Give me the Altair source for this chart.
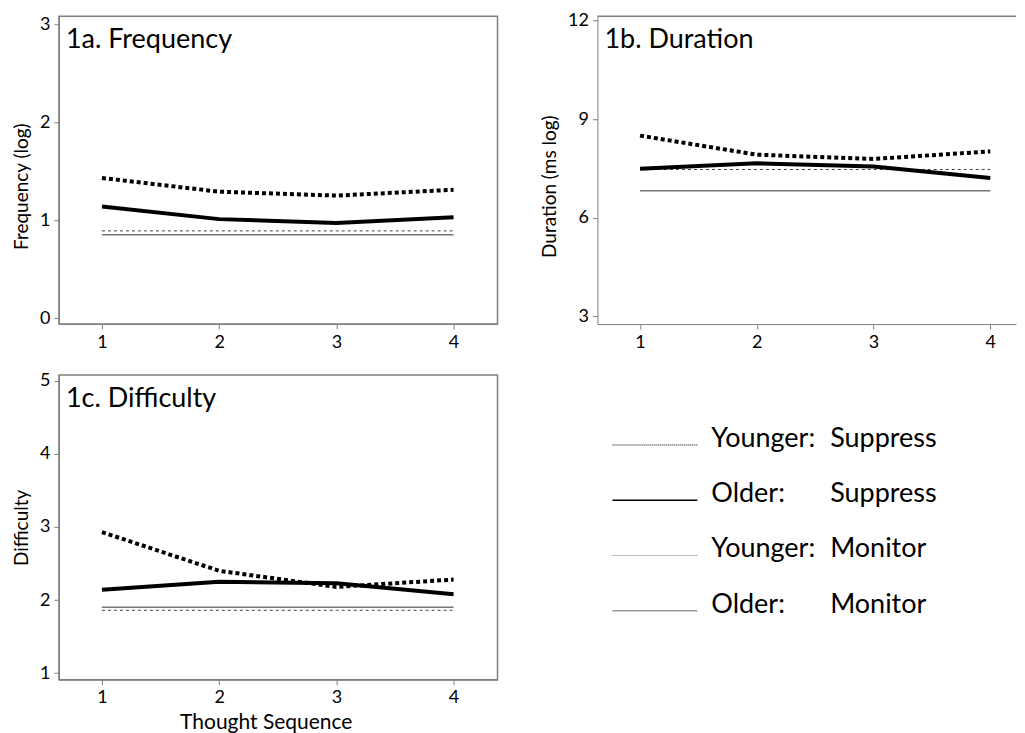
import altair as alt
import pandas as pd

FONT = "Lato"

seq = [1, 2, 3, 4]
series = ["Younger: Suppress", "Older: Suppress", "Younger: Monitor", "Older: Monitor"]
groups = ["Younger:", "Older:", "Younger:", "Older:"]
conditions = ["Suppress", "Suppress", "Monitor", "Monitor"]

# 1a. Frequency (log)
freq_young_suppress = [1.43, 1.29, 1.25, 1.31]
freq_old_suppress = [1.14, 1.01, 0.97, 1.03]
freq_young_monitor = [0.89, 0.89, 0.89, 0.89]
freq_old_monitor = [0.85, 0.85, 0.85, 0.85]

# 1b. Duration (ms log)
dur_young_suppress = [8.50, 7.92, 7.79, 8.02]
dur_old_suppress = [7.49, 7.66, 7.56, 7.21]
dur_young_monitor = [7.47, 7.47, 7.47, 7.47]
dur_old_monitor = [6.82, 6.82, 6.82, 6.82]

# 1c. Difficulty
diff_young_suppress = [2.93, 2.40, 2.18, 2.28]
diff_old_suppress = [2.14, 2.25, 2.23, 2.08]
diff_young_monitor = [1.86, 1.86, 1.86, 1.86]
diff_old_monitor = [1.90, 1.90, 1.90, 1.90]

freq_ticks = [0, 1, 2, 3]
dur_ticks = [3, 6, 9, 12]
diff_ticks = [1, 2, 3, 4, 5]

styles = {
    "Younger: Suppress": dict(color="black", strokeWidth=4, strokeDash=[4, 3], strokeCap="butt"),
    "Older: Suppress": dict(color="black", strokeWidth=4),
    "Younger: Monitor": dict(color="#444444", strokeWidth=1, strokeDash=[3, 3]),
    "Older: Monitor": dict(color="#777777", strokeWidth=1.5),
}
legend_styles = {
    "Younger: Suppress": dict(color="#555555", strokeWidth=1.5, strokeDash=[1, 1]),
    "Older: Suppress": dict(color="black", strokeWidth=1.5),
    "Younger: Monitor": dict(color="#777777", strokeWidth=1, strokeDash=[1, 1]),
    "Older: Monitor": dict(color="#999999", strokeWidth=1.5),
}


def make_df(ys, os_, ym, om):
    rows = []
    for name, vals in zip(series, [ys, os_, ym, om]):
        for s, v in zip(seq, vals):
            rows.append({"series": name, "seq": s, "value": v})
    return pd.DataFrame(rows)


def panel(df, label, ytitle, ydomain, yticks, xdomain, width, height,
          xtitle=None, title_y=None, frame=True):
    yaxis = dict(values=yticks, title=ytitle, titleFontSize=19, titleFont=FONT,
                 titleFontWeight="normal", titleColor="black", titlePadding=8)
    if title_y is not None:
        yaxis["titleY"] = title_y
    xaxis = dict(values=seq, title=xtitle, titleFontSize=21, titleFont=FONT,
                 titleFontWeight="normal", titleColor="black", titlePadding=5)
    if xtitle is not None:
        xaxis["titleX"] = 207
    base = alt.Chart(df).encode(
        x=alt.X("seq:Q", scale=alt.Scale(domain=xdomain, nice=False, zero=False),
                axis=alt.Axis(**xaxis)),
        y=alt.Y("value:Q", scale=alt.Scale(domain=ydomain, nice=False, zero=False),
                axis=alt.Axis(**yaxis)),
    )
    layers = []
    for name in reversed(series):
        layers.append(
            base.transform_filter(alt.datum.series == name).mark_line(**styles[name])
        )
    text = alt.Chart(pd.DataFrame({"t": [label]})).mark_text(
        align="left", baseline="alphabetic", fontSize=27, font=FONT, color="black"
    ).encode(x=alt.value(7), y=alt.value(32), text="t:N")
    layers.append(text)
    if not frame:
        top = alt.Chart(pd.DataFrame({"t": [0]})).mark_rule(
            color="#7f7f7f", strokeWidth=1.5
        ).encode(x=alt.value(0), x2=alt.value(width), y=alt.value(0))
        layers.append(top)
    ch = alt.layer(*layers).properties(width=width, height=height)
    if not frame:
        ch = ch.properties(view=alt.ViewBackground(stroke=None, strokeWidth=0))
    return ch


freq_df = make_df(freq_young_suppress, freq_old_suppress, freq_young_monitor, freq_old_monitor)
dur_df = make_df(dur_young_suppress, dur_old_suppress, dur_young_monitor, dur_old_monitor)
diff_df = make_df(diff_young_suppress, diff_old_suppress, diff_young_monitor, diff_old_monitor)

pa = panel(freq_df, "1a. Frequency", "Frequency (log)", [-0.061, 3.08], freq_ticks,
           [0.633, 4.375], 439, 308, title_y=170)
pb = panel(dur_df, "1b. Duration", "Duration  (ms log)", [2.766, 12.13], dur_ticks,
           [0.635, 4.22], 419, 308, title_y=170, frame=False)
pc = panel(diff_df, "1c. Difficulty", "Difficulty", [0.91, 5.08], diff_ticks,
           [0.633, 4.375], 439, 305, xtitle="Thought Sequence")

leg_df = pd.DataFrame({"series": series, "group": groups, "cond": conditions})
yrow = alt.Y("series:N",
             scale=alt.Scale(type="point", domain=series, range=[70, 236], padding=0),
             axis=None)
leg_layers = []
for name in series:
    leg_layers.append(
        alt.Chart(leg_df).transform_filter(alt.datum.series == name)
        .mark_rule(**legend_styles[name])
        .encode(x=alt.value(15), x2=alt.value(100), y=yrow)
    )
leg_layers.append(
    alt.Chart(leg_df).mark_text(align="left", baseline="alphabetic", dy=2, fontSize=27,
                                font=FONT, color="black")
    .encode(x=alt.value(114), y=yrow, text="group:N")
)
leg_layers.append(
    alt.Chart(leg_df).mark_text(align="left", baseline="alphabetic", dy=2, fontSize=27,
                                font=FONT, color="black")
    .encode(x=alt.value(233), y=yrow, text="cond:N")
)
leg = alt.layer(*leg_layers).properties(
    width=419, height=305, view=alt.ViewBackground(stroke=None)
)

chart = alt.concat(
    pa, pb, pc, leg, columns=2, spacing={"row": 51, "column": 100}, bounds="flush"
).properties(
    padding={"left": 3, "top": 3, "right": 0, "bottom": 0}
).configure(background="white").configure_view(
    stroke="#7f7f7f", strokeWidth=1.5
).configure_axis(
    domainColor="#7f7f7f", tickColor="#7f7f7f", tickSize=5, labelPadding=4,
    labelFontSize=18, labelFont=FONT, labelColor="black", grid=False
)

chart.save("out.html", embed_options={"renderer": "svg", "actions": False})
